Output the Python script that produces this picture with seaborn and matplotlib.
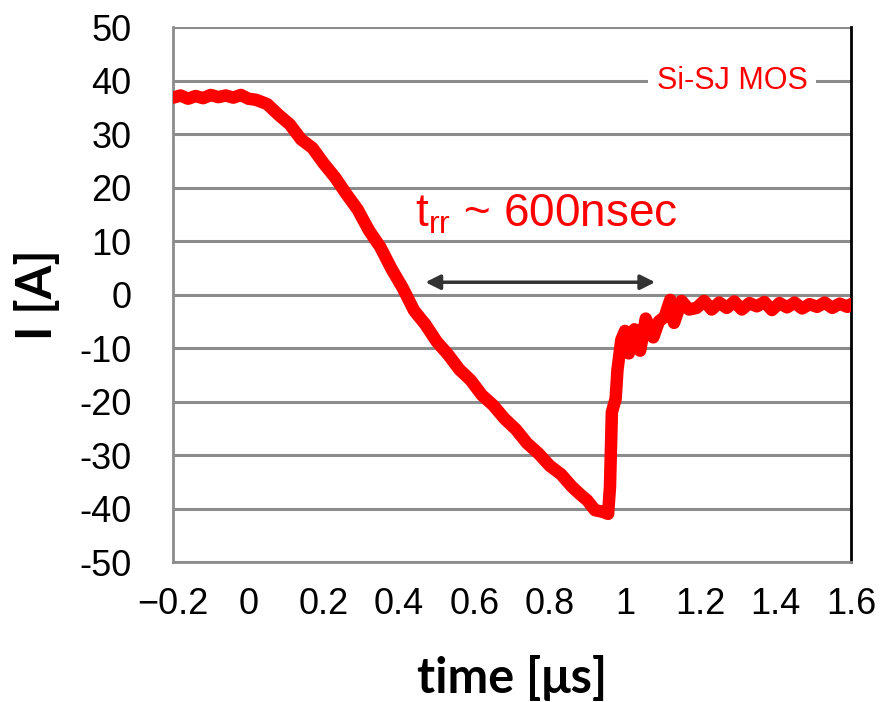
import pandas as pd
import numpy as np
from matplotlib import pyplot as plt
import seaborn as sns

# reverse recovery current waveform
time_us = [-0.2, -0.18, -0.16, -0.14, -0.12, -0.10, -0.08, -0.06, -0.04, -0.02, 0.0, 0.02,
           0.05, 0.08, 0.11, 0.14, 0.17, 0.20, 0.23, 0.26, 0.29, 0.32, 0.35, 0.38, 0.41,
           0.44, 0.47, 0.50, 0.53, 0.56, 0.59, 0.62, 0.65, 0.68, 0.71, 0.74, 0.77, 0.80,
           0.83, 0.86, 0.88, 0.90, 0.92, 0.94, 0.955, 0.96, 0.965, 0.975, 0.98, 0.99, 1.0,
           1.01, 1.025, 1.04, 1.055, 1.075, 1.09, 1.105, 1.12, 1.13, 1.15, 1.17, 1.19,
           1.21, 1.23, 1.25, 1.27, 1.29, 1.31, 1.33, 1.35, 1.37, 1.39, 1.41, 1.43, 1.45,
           1.47, 1.49, 1.51, 1.53, 1.55, 1.57, 1.59, 1.6]
current_a = [36.8, 37.2, 36.6, 37.1, 36.7, 37.3, 36.9, 37.2, 36.8, 37.3, 36.6, 36.4,
             35.6, 33.6, 31.8, 29.0, 27.4, 24.5, 21.9, 18.8, 15.9, 12.0, 8.9, 4.8, 1.2,
             -3.0, -5.6, -8.8, -11.2, -14.0, -16.0, -18.8, -20.7, -23.2, -25.2, -27.8, -29.7, -32.0,
             -33.6, -36.0, -37.3, -38.5, -40.3, -40.6, -41.0, -36.0, -22.0, -19.5, -14.0, -8.5, -6.8,
             -11.0, -6.5, -10.5, -4.5, -8.0, -5.0, -4.2, -1.0, -5.3, -1.2, -2.8, -2.5,
             -1.2, -2.8, -1.5, -2.5, -1.3, -2.8, -1.6, -2.2, -1.4, -2.9, -1.6, -2.4, -1.5,
             -2.6, -1.8, -2.3, -1.5, -2.5, -1.7, -2.3, -1.8]

xticks = [-0.2, 0, 0.2, 0.4, 0.6, 0.8, 1.0, 1.2, 1.4, 1.6]
xticklabels = ['\u22120.2', '0', '0.2', '0.4', '0.6', '0.8', '1', '1.2', '1.4', '1.6']
yticks = [50, 40, 30, 20, 10, 0, -10, -20, -30, -40, -50]
yticklabels = ['50', '40', '30', '20', '10', '0', '-10', '-20', '-30', '-40', '-50']

df = pd.DataFrame({'time': time_us, 'I': current_a})

sns.set_style('white')
plt.rcParams['font.family'] = ['Liberation Sans', 'DejaVu Sans']

fig = plt.figure(figsize=(8.81, 7.02), dpi=100)
ax = fig.add_axes([0.1964, 0.1994, 0.7696, 0.7621])

sns.lineplot(data=df, x='time', y='I', ax=ax, color='#ff0000', linewidth=9,
             solid_capstyle='round', solid_joinstyle='round', zorder=3)

ax.set_xlim(-0.2, 1.6)
ax.set_ylim(-50, 50)
ax.set_yticks(yticks)
ax.set_yticklabels(yticklabels, fontsize=26, color='black')
ax.set_xticks(xticks)
ax.set_xticklabels(xticklabels, fontsize=26, color='black')
ax.tick_params(axis='y', length=0, pad=30)
ax.tick_params(axis='x', direction='in', length=9, width=1.5, color='#888888', pad=18)

ax.yaxis.grid(True, color='#8c8c8c', linewidth=2.2)
ax.xaxis.grid(False)
for side in ['left', 'bottom']:
    ax.spines[side].set_color('#8c8c8c')
    ax.spines[side].set_linewidth(2)
ax.spines['right'].set_color('black')
ax.spines['right'].set_linewidth(2)
ax.spines['top'].set_visible(False)

ax.set_xlabel('time [\u03bcs]', fontsize=35, fontweight='bold', family='Lato',
              labelpad=24, color='black')
ax.set_ylabel('I [A]', fontsize=35, fontweight='bold', family='Lato',
              labelpad=14, color='black')

ax.annotate('', xy=(0.47, 2.3), xytext=(1.08, 2.3),
            arrowprops=dict(arrowstyle='<|-|>', color='#333333', lw=2.5,
                            mutation_scale=22, shrinkA=0, shrinkB=0))
ax.text(0.79, 14.9, r'$\mathregular{t_{rr}}$ ~ 600nsec', color='#ff0000', fontsize=33,
        ha='center', va='center')
ax.text(1.284, 40, 'Si-SJ MOS', color='#ff0000', fontsize=22, ha='center', va='center',
        bbox=dict(facecolor='white', edgecolor='none', pad=6), zorder=4)

fig.savefig('out.png', dpi=100)
